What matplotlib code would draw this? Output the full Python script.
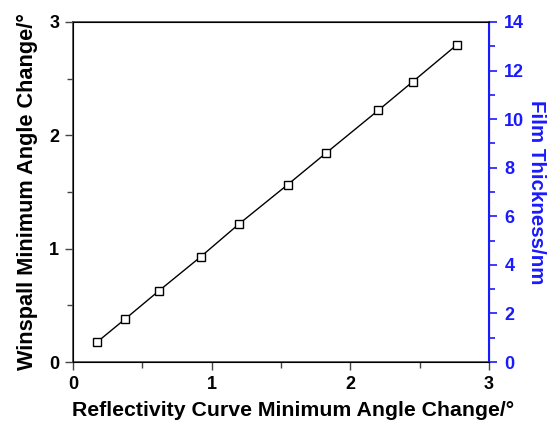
import numpy as np
import matplotlib.pyplot as plt
from matplotlib.ticker import MultipleLocator

plt.rcParams['font.family'] = ['Liberation Sans', 'DejaVu Sans']
plt.rcParams['font.weight'] = 'bold'

# Data
reflectivity_change = [0.173, 0.373, 0.620, 0.921, 1.197, 1.548, 1.822, 2.202, 2.450, 2.767]
winspall_change = [0.176, 0.377, 0.629, 0.929, 1.218, 1.565, 1.841, 2.221, 2.473, 2.797]

blue = '#1a1aff'

fig = plt.figure(figsize=(5.47, 4.22), dpi=100)
ax = fig.add_axes([0.1335, 0.142, 0.7605, 0.806])

ax.plot(reflectivity_change, winspall_change, color='black', linewidth=1.0,
        marker='s', markersize=5.5, markerfacecolor='white', markeredgecolor='black',
        markeredgewidth=1.0)

ax.set_xlim(0, 3)
ax.set_ylim(0, 3)
ax.xaxis.set_major_locator(MultipleLocator(1))
ax.xaxis.set_minor_locator(MultipleLocator(0.5))
ax.yaxis.set_major_locator(MultipleLocator(1))
ax.yaxis.set_minor_locator(MultipleLocator(0.5))
ax.tick_params(axis='both', which='major', direction='out', length=6, width=1,
               labelsize=13, color='#444444', pad=4)
ax.tick_params(axis='both', which='minor', direction='out', length=4, width=1,
               color='#444444')
for s in ['left', 'bottom', 'top']:
    ax.spines[s].set_color('#444444')
    ax.spines[s].set_linewidth(1.2)

ax.set_xlabel('Reflectivity Curve Minimum Angle Change/°', fontsize=15.3,
              fontweight='bold', va='baseline')
ax.xaxis.set_label_coords(0.529, -0.159)
ax.set_ylabel('Winspall Minimum Angle Change/°', fontsize=15.7,
              fontweight='bold', va='center', ha='center')
ax.yaxis.set_label_coords(-0.11, 0.5)

# Right axis for film thickness
ax2 = ax.twinx()
ax2.set_ylim(0, 14)
ax2.yaxis.set_major_locator(MultipleLocator(2))
ax2.yaxis.set_minor_locator(MultipleLocator(1))
ax2.tick_params(axis='y', which='major', direction='out', length=6, width=1.2,
                labelsize=13, colors=blue, pad=5)
ax2.tick_params(axis='y', which='minor', direction='out', length=4, width=1.2,
                colors=blue)
ax2.spines['right'].set_color(blue)
ax2.spines['right'].set_linewidth(1.5)
ax2.set_ylabel('Film Thickness/nm', fontsize=14.8, fontweight='bold', color=blue,
               rotation=270, va='center', ha='center')
ax2.yaxis.set_label_coords(1.113, 0.5)

fig.savefig('out.png', dpi=100)
